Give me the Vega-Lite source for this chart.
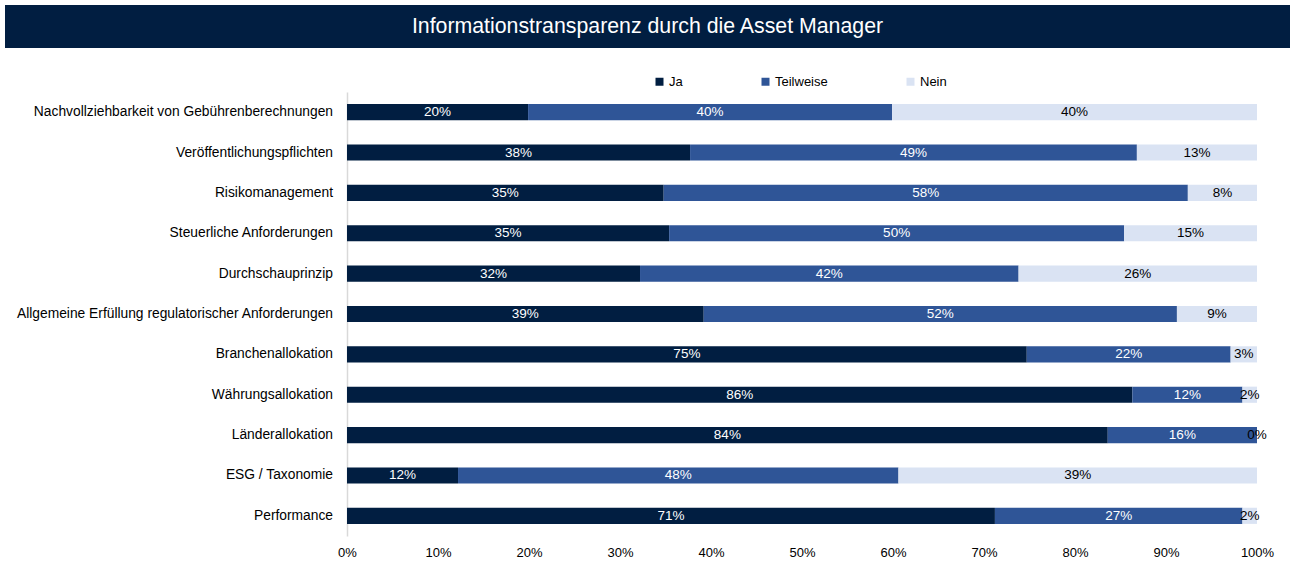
{
  "$schema": "https://vega.github.io/schema/vega-lite/v6.json",
  "padding": 5,
  "background": "white",
  "config": {
    "font": "Liberation Sans",
    "view": {"stroke": null},
    "axisX": {"title": null, "format": ".0%", "grid": false, "domain": false, "ticks": false, "labelFontSize": 13, "labelColor": "#000000", "labelPadding": 10, "labelFlush": false, "labelOverlap": false}
  },
  "datasets": {
    "survey": [
      {"category": "Nachvollziehbarkeit von Gebührenberechnungen", "answer": "Ja", "value": 19.9},
      {"category": "Nachvollziehbarkeit von Gebührenberechnungen", "answer": "Teilweise", "value": 40.0},
      {"category": "Nachvollziehbarkeit von Gebührenberechnungen", "answer": "Nein", "value": 40.1},
      {"category": "Veröffentlichungspflichten", "answer": "Ja", "value": 37.7},
      {"category": "Veröffentlichungspflichten", "answer": "Teilweise", "value": 49.1},
      {"category": "Veröffentlichungspflichten", "answer": "Nein", "value": 13.2},
      {"category": "Risikomanagement", "answer": "Ja", "value": 34.8},
      {"category": "Risikomanagement", "answer": "Teilweise", "value": 57.6},
      {"category": "Risikomanagement", "answer": "Nein", "value": 7.6},
      {"category": "Steuerliche Anforderungen", "answer": "Ja", "value": 35.4},
      {"category": "Steuerliche Anforderungen", "answer": "Teilweise", "value": 50.0},
      {"category": "Steuerliche Anforderungen", "answer": "Nein", "value": 14.6},
      {"category": "Durchschauprinzip", "answer": "Ja", "value": 32.2},
      {"category": "Durchschauprinzip", "answer": "Teilweise", "value": 41.6},
      {"category": "Durchschauprinzip", "answer": "Nein", "value": 26.2},
      {"category": "Allgemeine Erfüllung regulatorischer Anforderungen", "answer": "Ja", "value": 39.2},
      {"category": "Allgemeine Erfüllung regulatorischer Anforderungen", "answer": "Teilweise", "value": 52.0},
      {"category": "Allgemeine Erfüllung regulatorischer Anforderungen", "answer": "Nein", "value": 8.8},
      {"category": "Branchenallokation", "answer": "Ja", "value": 74.7},
      {"category": "Branchenallokation", "answer": "Teilweise", "value": 22.4},
      {"category": "Branchenallokation", "answer": "Nein", "value": 2.9},
      {"category": "Währungsallokation", "answer": "Ja", "value": 86.3},
      {"category": "Währungsallokation", "answer": "Teilweise", "value": 12.1},
      {"category": "Währungsallokation", "answer": "Nein", "value": 1.6},
      {"category": "Länderallokation", "answer": "Ja", "value": 83.6},
      {"category": "Länderallokation", "answer": "Teilweise", "value": 16.4},
      {"category": "Länderallokation", "answer": "Nein", "value": 0},
      {"category": "ESG / Taxonomie", "answer": "Ja", "value": 12.2},
      {"category": "ESG / Taxonomie", "answer": "Teilweise", "value": 48.4},
      {"category": "ESG / Taxonomie", "answer": "Nein", "value": 39.4},
      {"category": "Performance", "answer": "Ja", "value": 71.2},
      {"category": "Performance", "answer": "Teilweise", "value": 27.2},
      {"category": "Performance", "answer": "Nein", "value": 1.6}
    ],
    "categories": [
      {"category": "Nachvollziehbarkeit von Gebührenberechnungen"},
      {"category": "Veröffentlichungspflichten"},
      {"category": "Risikomanagement"},
      {"category": "Steuerliche Anforderungen"},
      {"category": "Durchschauprinzip"},
      {"category": "Allgemeine Erfüllung regulatorischer Anforderungen"},
      {"category": "Branchenallokation"},
      {"category": "Währungsallokation"},
      {"category": "Länderallokation"},
      {"category": "ESG / Taxonomie"},
      {"category": "Performance"}
    ]
  },
  "spacing": 27,
  "resolve": {"legend": {"color": "independent"}, "scale": {"color": "independent"}},
  "vconcat": [
    {
      "width": 1285,
      "height": 43,
      "view": {"fill": "#011E41", "stroke": null},
      "data": {"values": [{"title": "Informationstransparenz durch die Asset Manager"}]},
      "mark": {"type": "text", "color": "white", "font": "Liberation Sans", "fontSize": 21.3, "align": "center", "baseline": "middle"},
      "encoding": {"text": {"field": "title"}}
    },
    {
      "spacing": 0,
      "resolve": {"legend": {"color": "independent"}, "scale": {"y": "independent", "x": "independent"}},
      "hconcat": [
        {
          "width": 332,
          "height": 444,
          "data": {"name": "categories"},
          "mark": {"type": "text", "fontSize": 13.8, "align": "right", "baseline": "middle", "dx": -4, "color": "#000000"},
          "encoding": {
            "y": {"field": "category", "type": "nominal", "sort": null, "axis": null},
            "x": {"datum": 1, "type": "quantitative", "scale": {"domain": [0, 1]}, "axis": null},
            "text": {"field": "category"}
          }
        },
        {
          "width": 910,
          "height": 444,
          "data": {"name": "survey"},
          "transform": [
            {"stack": "value", "groupby": ["category"], "offset": "normalize", "as": ["v0", "v1"]},
            {"calculate": "(datum.v0 + datum.v1) / 2", "as": "mid"},
            {"calculate": "format(datum.value, '.0f') + '%'", "as": "label"}
          ],
          "encoding": {
            "y": {
              "field": "category", "type": "nominal", "sort": null,
              "scale": {"paddingInner": 0.6, "paddingOuter": 0.3},
              "axis": {"title": null, "labels": false, "ticks": false, "domainColor": "#D9D9D9", "domainWidth": 1.5}
            }
          },
          "layer": [
            {
              "mark": {"type": "bar"},
              "encoding": {
                "x": {"field": "v0", "type": "quantitative", "scale": {"domain": [0, 1]},
                      "axis": {"values": [0, 0.1, 0.2, 0.3, 0.4, 0.5, 0.6, 0.7, 0.8, 0.9, 1]}},
                "x2": {"field": "v1"},
                "color": {
                  "field": "answer", "type": "nominal",
                  "scale": {"domain": ["Ja", "Teilweise", "Nein"], "range": ["#011E41", "#2F5597", "#DAE3F3"]},
                  "legend": {"title": null, "orient": "none", "legendX": 306, "legendY": -17, "direction": "horizontal", "symbolType": "square", "symbolSize": 64, "symbolStrokeWidth": 0, "labelFontSize": 13, "labelColor": "#000000", "columnPadding": 76, "labelOffset": 3}
                }
              }
            },
            {
              "mark": {"type": "text", "fontSize": 13.5, "baseline": "middle", "align": "center"},
              "encoding": {
                "x": {"field": "mid", "type": "quantitative", "axis": {"values": [0, 0.1, 0.2, 0.3, 0.4, 0.5, 0.6, 0.7, 0.8, 0.9, 1]}},
                "text": {"field": "label"},
                "color": {"condition": {"test": "datum.answer === 'Nein'", "value": "#000000"}, "value": "#FFFFFF"}
              }
            }
          ]
        }
      ]
    }
  ]
}
